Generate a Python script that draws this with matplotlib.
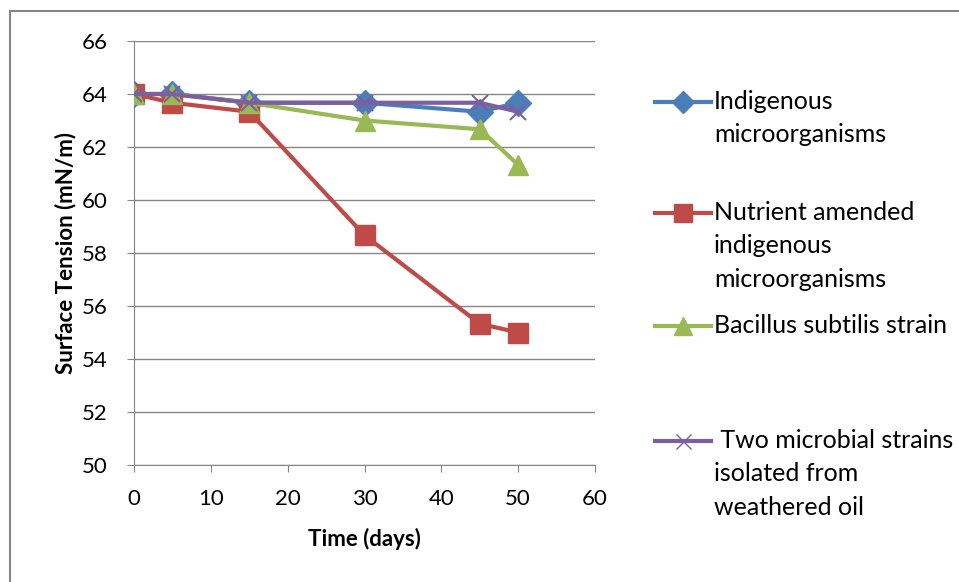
import matplotlib.pyplot as plt
from matplotlib.lines import Line2D
from matplotlib.patches import Rectangle

plt.rcParams["font.family"] = ["Lato", "DejaVu Sans"]

days = [0, 5, 15, 30, 45, 50]
indigenous = [64.0, 64.0, 63.67, 63.67, 63.33, 63.67]
nutrient = [64.0, 63.67, 63.33, 58.67, 55.33, 55.0]
bacillus = [64.0, 64.0, 63.67, 63.0, 62.67, 61.33]
two_strains = [64.0, 64.0, 63.67, 63.67, 63.67, 63.33]

labels = ["Indigenous\nmicroorganisms",
          "Nutrient amended\nindigenous\nmicroorganisms",
          "Bacillus subtilis strain",
          " Two microbial strains\nisolated from\nweathered oil"]
colors = ["#4a7ebb", "#be4b48", "#98b954", "#7d5fa0"]
markers = ["D", "s", "^", "x"]
msizes = [13, 14, 14, 12]

fig = plt.figure(figsize=(9.59, 5.82), dpi=100)
ax = fig.add_axes([134 / 959, 1 - 465 / 582, 461 / 959, 424 / 582])

series = [indigenous, nutrient, bacillus, two_strains]
for ys, c, m, ms in zip(series, colors, markers, msizes):
    ax.plot(days, ys, color=c, lw=3, marker=m, ms=ms, mec=c, mew=1.5 if m == "x" else 1, zorder=3)

ax.set_xlim(0, 60)
ax.set_ylim(50, 66)
ax.set_xticks(range(0, 61, 10))
ax.set_yticks(range(50, 67, 2))
ax.yaxis.grid(True, color="#868686", lw=1)
ax.set_axisbelow(True)
for s in ["top", "right"]:
    ax.spines[s].set_visible(False)
for s in ["left", "bottom"]:
    ax.spines[s].set_color("#868686")
ax.tick_params(colors="#868686", labelcolor="black", labelsize=16, length=5, direction="out")
ax.tick_params(axis="x", pad=12)
ax.tick_params(axis="y", pad=14)
ax.set_xlabel("Time (days)", fontsize=16, fontweight="bold", labelpad=14)
ax.set_ylabel("Surface Tension (mN/m)", fontsize=16, fontweight="bold", labelpad=4)

# legend, handle lined up with the first text line as in the source
leg_y = [102, 213, 326, 441]
for lab, c, m, ms, yp in zip(labels, colors, markers, msizes, leg_y):
    yf = 1 - yp / 582
    fig.add_artist(Line2D([655 / 959, 711 / 959], [yf, yf], color=c, lw=3,
                          transform=fig.transFigure))
    fig.add_artist(Line2D([683 / 959], [yf], color=c, marker=m, ms=ms * 0.9, mec=c,
                          transform=fig.transFigure))
    fig.text(714 / 959, yf + 12 / 582, lab, fontsize=18, va="top", ha="left",
             linespacing=1.55)

fig.add_artist(Rectangle((10 / 959, -20 / 582), 1000 / 959, 591 / 582, fill=False,
                         ec="#868686", lw=1.5, transform=fig.transFigure))

fig.savefig("out.png", dpi=100)
